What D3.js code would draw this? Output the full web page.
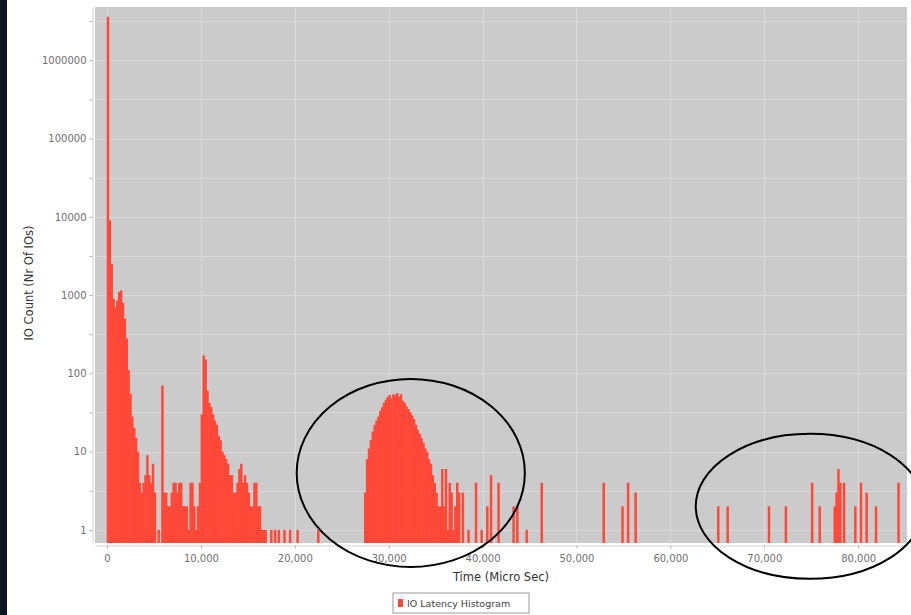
<!DOCTYPE html>
<html>
<head>
<meta charset="utf-8">
<script src="https://cdn.jsdelivr.net/npm/d3@7"></script>
<style>
  body{ margin: 0; background: #fff; font-family: "DejaVu Sans", sans-serif;}
  svg{ display: block;}
  .tick text{ fill: #707070; font-size: 10px;}
  .tick line{ stroke: #b0b0b0;}
  .domain{ stroke: #d4d4d4;}
</style>
</head>
<body>
<script>
// histogram bins, 200 micro sec wide
var binWidth = 200

// dense run from 0 us
var earlyStart = 0
var earlyCounts = [3600000, 9000, 2500, 900, 700, 850, 1100, 1150, 800, 500,
  280, 110, 55, 28, 20, 15, 10, 4, 3, 4, 5, 9, 5, 4, 7, 3, 0, 1, 0, 70,
  3, 3, 2, 2, 3, 4, 4, 3, 4, 4, 2, 2, 2, 1, 4, 4, 2, 1, 2, 4,
  30, 170, 150, 60, 42, 37, 30, 25, 22, 16, 14, 10, 9, 8, 7, 5, 5, 3, 3, 4,
  6, 7, 4, 5, 4, 3, 2, 2, 4, 4, 2, 2, 1, 1, 1]

// the hump around 30,000 us
var humpStart = 27400
var humpCounts = [3, 8, 11, 14, 18, 22, 25, 28, 33, 37, 42, 46, 50, 53, 48,
  54, 52, 56, 50, 54, 45, 42, 38, 35, 32, 29, 26, 22, 19, 17, 15, 13, 11, 10,
  8, 7, 5, 4, 3, 2, 2, 6, 2, 6, 1, 4, 3, 1, 2, 4, 3]

// lone bins
var sparseTimes = [17400, 17800, 18200, 18800, 19400, 20200, 22400,
  37800, 38400, 39200, 39800, 40400, 40800, 41600, 43200, 43600, 44600, 46200,
  52800, 54800, 55400, 56200, 65000, 66000, 70400, 72200, 75000, 75800,
  77400, 77600, 77800, 78000, 78400, 79600, 80200, 80800, 81800, 84200]
var sparseCounts = [1, 1, 1, 1, 1, 1, 1,
  3, 1, 4, 1, 2, 5, 4, 2, 2, 1, 4,
  4, 2, 4, 3, 2, 2, 2, 2, 4, 2,
  2, 3, 6, 4, 4, 2, 4, 3, 2, 4]

var xTicks = [0, 10000, 20000, 30000, 40000, 50000, 60000, 70000, 80000]
var yTicks = [1, 10, 100, 1000, 10000, 100000, 1000000]
var xTitle = 'Time (Micro Sec)'
var yTitle = 'IO Count (Nr Of IOs)'
var legendLabel = 'IO Latency Histogram'

// hand drawn rings, as boxes in data units
var rings = [
  {t0: 20200, t1: 44500, c0: 0.336, c1: 85},
  {t0: 62700, t1: 87000, c0: 0.237, c1: 16.9}
]

var W = 911, H = 615
var plot = {left: 95, right: 907, top: 7, bottom: 543}

var bins = []
earlyCounts.forEach(function(c, i){ bins.push({t: earlyStart + i * binWidth, c: c}) })
humpCounts.forEach(function(c, i){ bins.push({t: humpStart + i * binWidth, c: c}) })
sparseTimes.forEach(function(t, i){ bins.push({t: t, c: sparseCounts[i]}) })
bins = bins.filter(function(d){ return d.c > 0 })

var x = d3.scaleLinear().domain([-1280, 85200]).range([plot.left, plot.right])
var y = d3.scaleLog().domain([0.68, 4.8e6]).range([plot.bottom, plot.top])

var yAll = []
yTicks.forEach(function(v){ yAll.push(v); yAll.push(v * Math.sqrt(10)) })
yAll = yAll.filter(function(v){ return v < 4.8e6 })

var svg = d3.select('body').append('svg').attr('width', W).attr('height', H)

svg.append('rect').attr('x', 0).attr('y', 0).attr('width', 7).attr('height', H)
  .attr('fill', '#0c1321')

svg.append('rect')
  .attr('x', plot.left).attr('y', plot.top)
  .attr('width', plot.right - plot.left).attr('height', plot.bottom - plot.top)
  .attr('fill', '#cbcbcb')

var grid = svg.append('g').attr('stroke', '#dadada').attr('stroke-width', 1)
grid.selectAll('.gy').data(yAll).enter().append('line')
  .attr('x1', plot.left).attr('x2', plot.right)
  .attr('y1', function(d){ return Math.round(y(d)) + 0.5 })
  .attr('y2', function(d){ return Math.round(y(d)) + 0.5 })
grid.selectAll('.gx').data(xTicks).enter().append('line')
  .attr('y1', plot.top).attr('y2', plot.bottom)
  .attr('x1', function(d){ return Math.round(x(d)) + 0.5 })
  .attr('x2', function(d){ return Math.round(x(d)) + 0.5 })

svg.append('clipPath').attr('id', 'clip').append('rect')
  .attr('x', plot.left).attr('y', plot.top)
  .attr('width', plot.right - plot.left).attr('height', plot.bottom - plot.top)

// a little overlap so neighbouring bins read as one solid block
svg.append('g').attr('clip-path', 'url(#clip)')
  .selectAll('rect').data(bins).enter().append('rect')
  .attr('x', function(d){ return x(d.t) - 0.3 })
  .attr('width', function(d){ return x(d.t + binWidth) - x(d.t) + 0.6 })
  .attr('y', function(d){ return y(d.c) })
  .attr('height', function(d){ return plot.bottom - y(d.c) })
  .attr('fill', '#ff4838')

svg.append('g').attr('transform', 'translate(0,' + (plot.bottom + 2.5) + ')')
  .call(d3.axisBottom(x).tickValues(xTicks).tickFormat(d3.format(','))
    .tickSizeInner(3).tickSizeOuter(0).tickPadding(6))
  .selectAll('text').style('font-family', '"DejaVu Sans", sans-serif')

svg.append('g').attr('transform', 'translate(' + (plot.left - 2.5) + ',0)')
  .call(d3.axisLeft(y).tickValues(yAll)
    .tickFormat(function(d){ return yTicks.indexOf(d) >= 0 ? String(d) : '' })
    .tickSizeInner(3).tickSizeOuter(0).tickPadding(3))
  .selectAll('text').style('font-family', '"DejaVu Sans", sans-serif')

svg.append('text')
  .attr('x', (plot.left + plot.right) / 2).attr('y', 581)
  .attr('text-anchor', 'middle').attr('font-size', 11.5).attr('fill', '#333')
  .text(xTitle)

svg.append('text')
  .attr('transform', 'translate(33,' + ((plot.top + plot.bottom) / 2 + 8) + ') rotate(-90)')
  .attr('text-anchor', 'middle').attr('font-size', 11.5).attr('fill', '#333')
  .text(yTitle)

var lg = svg.append('g').attr('transform', 'translate(393,593)')
lg.append('rect').attr('width', 136).attr('height', 20)
  .attr('fill', '#fff').attr('stroke', '#9a9a9a')
lg.append('rect').attr('x', 5).attr('y', 6).attr('width', 5).attr('height', 8)
  .attr('fill', '#ff4838')
lg.append('text').attr('x', 14).attr('y', 14).attr('font-size', 9.5)
  .attr('fill', '#444').text(legendLabel)

svg.selectAll('.ring').data(rings).enter().append('ellipse')
  .attr('cx', function(d){ return (x(d.t0) + x(d.t1)) / 2 })
  .attr('cy', function(d){ return (y(d.c0) + y(d.c1)) / 2 })
  .attr('rx', function(d){ return (x(d.t1) - x(d.t0)) / 2 })
  .attr('ry', function(d){ return (y(d.c0) - y(d.c1)) / 2 })
  .attr('fill', 'none').attr('stroke', '#000').attr('stroke-width', 2)
</script>
</body>
</html>
